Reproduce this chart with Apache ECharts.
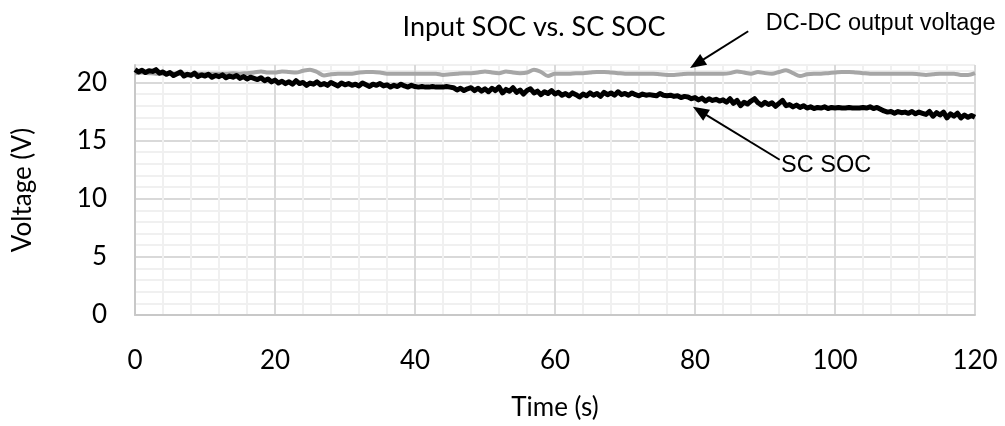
<!DOCTYPE html>
<html>
<head>
<meta charset="utf-8">
<title>Input SOC vs. SC SOC</title>
<script src="https://cdn.jsdelivr.net/npm/echarts@6/dist/echarts.min.js"></script>
<style>
  html, body { margin: 0; padding: 0; background: #fff; }
  #chart { width: 1005px; height: 426px; }
</style>
</head>
<body>
<div id="chart"></div>
<script>
// SC SOC voltage, sampled every 0.5 s from 0 to 120 s
const scTimeStep = 0.5;
const scSocVoltage = [
  21.1, 20.9, 21.05, 20.85, 21.0, 20.95, 21.1, 20.8, 20.9, 20.7, 20.85, 20.6, 20.75, 20.9, 20.55, 20.7, 20.6, 20.8, 20.5, 20.65, 20.55,
  20.7, 20.45, 20.6, 20.5, 20.65, 20.4, 20.55, 20.45, 20.6, 20.35, 20.5, 20.3, 20.45, 20.35, 20.25, 20.4, 20.15, 20.3, 20.05, 20.2,
  19.95, 20.1, 19.9, 20.05, 19.85, 20.15, 19.9, 20.0, 19.75, 19.95, 19.85, 20.05, 19.8, 19.9, 19.75, 20.0, 19.85, 19.7, 19.95, 19.8,
  19.9, 19.75, 19.85, 19.7, 19.95, 19.8, 19.65, 19.85, 19.75, 19.9, 19.7, 19.8, 19.6, 19.75, 19.65, 19.85, 19.7, 19.6, 19.75, 19.65,
  19.6, 19.65, 19.6, 19.6, 19.65, 19.6, 19.6, 19.6, 19.65, 19.6, 19.55, 19.35, 19.5, 19.3, 19.45, 19.55, 19.3, 19.5, 19.25, 19.45,
  19.2, 19.5, 19.3, 19.6, 19.1, 19.4, 19.25, 19.55, 19.15, 19.35, 19.0, 19.3, 19.45, 19.1, 19.25, 18.95, 19.2, 19.05, 19.3, 19.0,
  19.15, 18.9, 19.05, 18.85, 19.1, 18.95, 18.75, 19.0, 18.85, 19.1, 18.9, 19.05, 18.8, 19.15, 18.95, 19.1, 18.9, 19.2, 18.95, 19.05,
  18.9, 19.1, 18.95, 18.85, 19.0, 18.9, 18.95, 18.9, 18.85, 19.05, 18.9, 18.85, 18.9, 18.8, 18.85, 18.7, 18.8, 18.75, 18.6, 18.7,
  18.5, 18.65, 18.4, 18.6, 18.45, 18.55, 18.4, 18.5, 18.3, 18.6, 18.2, 18.45, 18.0, 18.3, 18.15, 18.4, 18.6, 18.25, 18.05, 18.3,
  18.1, 18.25, 17.95, 18.2, 18.45, 18.0, 18.1, 17.9, 18.05, 17.85, 18.0, 17.8, 17.9, 17.75, 17.85, 17.8, 17.9, 17.75, 17.85, 17.8,
  17.85, 17.8, 17.8, 17.85, 17.8, 17.8, 17.8, 17.85, 17.8, 17.9, 17.75, 17.85, 17.7, 17.55, 17.45, 17.5, 17.35, 17.5, 17.4, 17.45,
  17.35, 17.5, 17.3, 17.45, 17.35, 17.25, 17.5, 17.1, 17.4, 17.2, 17.45, 16.95, 17.3, 17.1, 17.35, 16.95, 17.2, 17.0, 17.15, 17.0
];

// DC-DC converter output voltage, sampled every 1 s from 0 to 120 s
const dcTimeStep = 1;
const dcOutputVoltage = [
  20.8, 20.85, 20.8, 20.75, 20.75, 20.8, 20.75, 20.75, 20.7, 20.75, 20.75,
  20.75, 20.75, 20.75, 20.8, 20.75, 20.8, 20.85, 20.95, 20.85, 20.85,
  20.95, 20.9, 20.85, 21.0, 21.1, 20.9, 20.6, 20.7, 20.75, 20.75,
  20.75, 20.85, 20.9, 20.9, 20.85, 20.75, 20.75, 20.75, 20.75, 20.75,
  20.75, 20.75, 20.75, 20.65, 20.7, 20.75, 20.8, 20.8, 20.85, 20.95,
  20.85, 20.8, 20.95, 20.85, 20.8, 20.85, 21.1, 20.9, 20.55, 20.75,
  20.75, 20.75, 20.8, 20.8, 20.85, 20.9, 20.9, 20.85, 20.8, 20.75,
  20.75, 20.75, 20.75, 20.75, 20.7, 20.65, 20.65, 20.7, 20.75, 20.75,
  20.75, 20.75, 20.75, 20.75, 20.8, 20.95, 20.85, 20.75, 20.9, 20.8,
  20.75, 20.9, 21.05, 20.8, 20.55, 20.7, 20.75, 20.75, 20.8, 20.85,
  20.9, 20.9, 20.85, 20.8, 20.75, 20.75, 20.75, 20.75, 20.75, 20.75,
  20.75, 20.7, 20.65, 20.7, 20.75, 20.75, 20.75, 20.65, 20.65, 20.8
];

// Axis ranges and tick labels
const timeRange = [0, 120];
const timeLabels = [0, 20, 40, 60, 80, 100, 120];
const voltageRange = [0, 21.5];
const voltageLabels = [0, 5, 10, 15, 20];

// Callout texts: [text, text anchor (s, V), arrow tail (s, V), arrow tip (s, V)]
const callouts = [
  ['DC-DC output voltage', [90.1, 25.1], [87.6, 24.4], [79.3, 21.25]],
  ['SC SOC', [92.3, 12.85], [92.1, 13.35], [79.7, 17.9]]
];

const toPairs = (values, step) => values.map((v, i) => [+(i * step).toFixed(2), v]);

const labelFont = 'Lato, "Open Sans", sans-serif';
const majorGrid = '#d9d9d9';
const minorGrid = '#f0f0f0';

const chart = echarts.init(document.getElementById('chart'), null, { renderer: 'canvas' });

chart.setOption({
  animation: false,
  backgroundColor: '#ffffff',
  title: {
    text: 'Input SOC vs. SC SOC',
    left: 529,
    top: 9,
    textAlign: 'center',
    textStyle: { fontFamily: labelFont, fontSize: 27, fontWeight: 'normal', color: '#000' }
  },
  grid: { left: 135, right: 30, top: 65, bottom: 105, containLabel: false },
  xAxis: {
    type: 'value',
    min: timeRange[0],
    max: timeRange[1],
    interval: 4,
    name: 'Time (s)',
    nameLocation: 'middle',
    nameGap: 80,
    nameTextStyle: { fontFamily: labelFont, fontSize: 26, color: '#000' },
    axisLine: { show: true, lineStyle: { color: '#c8c8c8', width: 2 } },
    axisTick: { show: false },
    axisLabel: {
      fontFamily: labelFont, fontSize: 26, color: '#000', margin: 33,
      formatter: v => (timeLabels.includes(v) ? String(v) : '')
    },
    splitLine: {
      show: true,
      lineStyle: { color: [majorGrid, minorGrid, minorGrid, minorGrid, minorGrid], width: 2 }
    }
  },
  yAxis: {
    type: 'value',
    min: voltageRange[0],
    max: voltageRange[1],
    interval: 1,
    name: 'Voltage (V)',
    nameLocation: 'middle',
    nameGap: 99,
    nameTextStyle: { fontFamily: labelFont, fontSize: 26, color: '#000' },
    axisLine: { show: true, lineStyle: { color: '#c8c8c8', width: 2 } },
    axisTick: { show: false },
    axisLabel: {
      fontFamily: labelFont, fontSize: 26, color: '#000', margin: 28,
      formatter: v => (voltageLabels.includes(v) ? String(v) : '')
    },
    splitLine: {
      show: true,
      lineStyle: { color: [majorGrid, minorGrid, minorGrid, minorGrid, minorGrid], width: 2 }
    }
  },
  series: [
    {
      name: 'DC-DC output voltage',
      type: 'line',
      data: toPairs(dcOutputVoltage, dcTimeStep),
      showSymbol: false,
      smooth: 0.3,
      lineStyle: { color: '#a6a6a6', width: 4 },
      z: 3
    },
    {
      name: 'SC SOC',
      type: 'line',
      data: toPairs(scSocVoltage, scTimeStep),
      showSymbol: false,
      lineStyle: { color: '#000000', width: 5, join: 'round' },
      z: 4
    }
  ]
});

// Callout arrows and texts, placed through the chart's own coordinate conversion
function drawCallouts() {
  const elements = [];
  callouts.forEach(([text, at, tail, tip]) => {
    const p = chart.convertToPixel({ gridIndex: 0 }, at);
    const a = chart.convertToPixel({ gridIndex: 0 }, tail);
    const b = chart.convertToPixel({ gridIndex: 0 }, tip);
    const dx = b[0] - a[0], dy = b[1] - a[1];
    const len = Math.hypot(dx, dy);
    const ux = dx / len, uy = dy / len;
    const head = 16, half = 6.5;
    const base = [b[0] - ux * head, b[1] - uy * head];
    elements.push({
      type: 'line',
      shape: { x1: a[0], y1: a[1], x2: base[0] + ux * 2, y2: base[1] + uy * 2 },
      style: { stroke: '#000', lineWidth: 2 },
      z: 10
    });
    elements.push({
      type: 'polygon',
      shape: { points: [b, [base[0] - uy * half, base[1] + ux * half], [base[0] + uy * half, base[1] - ux * half]] },
      style: { fill: '#000' },
      z: 10
    });
    elements.push({
      type: 'text',
      x: p[0], y: p[1],
      style: {
        text, fill: '#000',
        font: '23.5px "Liberation Sans", Arial, sans-serif',
        textAlign: 'left', textVerticalAlign: 'middle'
      },
      z: 10
    });
  });
  chart.setOption({ graphic: { elements } });
}
drawCallouts();
</script>
</body>
</html>
